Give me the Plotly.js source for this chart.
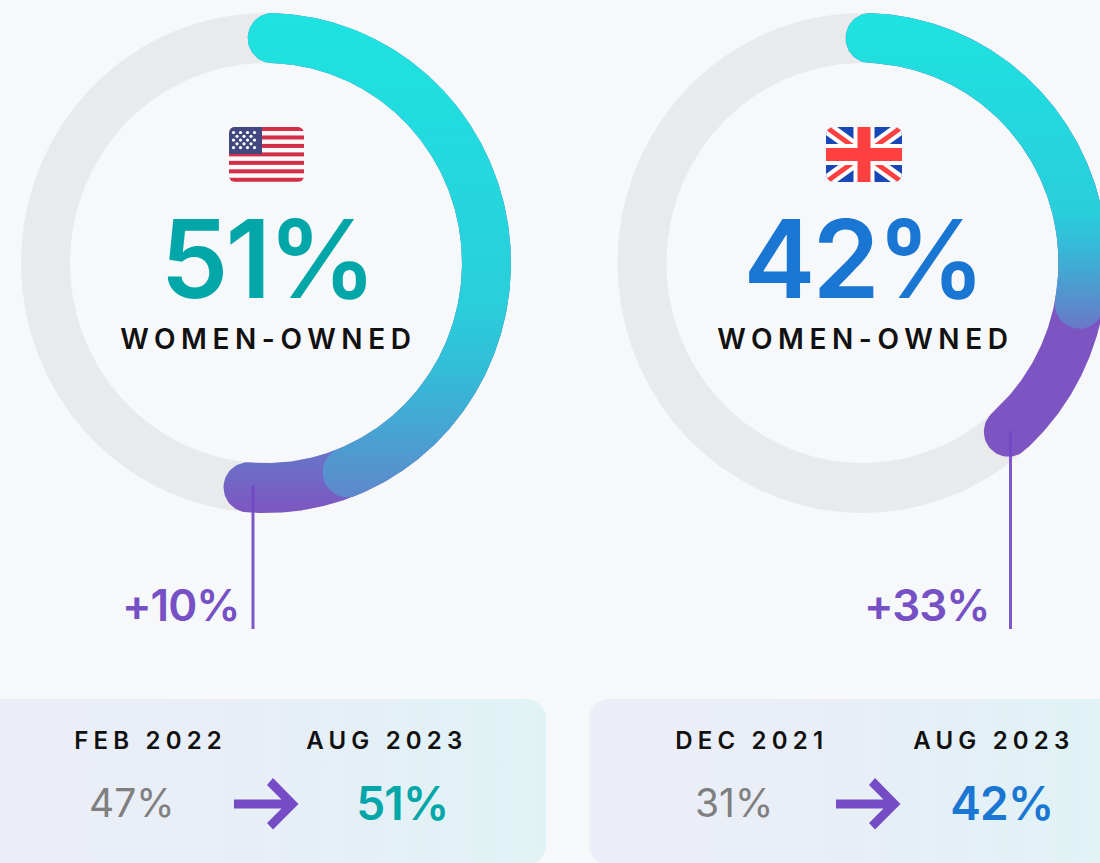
<!DOCTYPE html>
<html><head><meta charset="utf-8">
<script src="https://cdn.plot.ly/plotly-3.0.1.min.js"></script>
<style>html,body{margin:0;padding:0;background:#f6f8fa;overflow:hidden}#chart{width:1100px;height:863px}</style>
</head><body><div id="chart"></div>
<script>
// ---- data ----
const countries = ['US', 'UK'];
const shareNow = [51, 42];
const sharePrev = [47, 31];
const changeLabels = ['+10%', '+33%'];
const prevDates = ['FEB 2022', 'DEC 2021'];
const nowDates = ['AUG 2023', 'AUG 2023'];
const subtitle = 'WOMEN-OWNED';
// where the drawn arcs start and end, as a percentage of the full ring
const arcStart = [0.45, 0.55];
const arcPrevEnd = [44.0, 27.9];
const arcNowEnd = [51.3, 38.5];
const nowColors = ['#00a6a8', '#1976d2'];

// ---- layout helpers ----
const W = 1100, H = 863;
const px = x => x / W, py = y => 1 - y / H;
const centerX = [266, 862.5], centerY = 263, rx = 220.5, ry = 225, halfBand = 24.5 / rx;
const domains = [[0, 0.5], [0.5, 1]];
const sides = [[0, 550], [550, 1100]];

function band(p0, p1, withCaps) {
  const xs = [], ys = [], step = 0.5 * Math.PI / 180;
  const t0 = p0 * 3.6 * Math.PI / 180, t1 = p1 * 3.6 * Math.PI / 180;
  const n = Math.ceil((t1 - t0) / step);
  const at = (t, r) => { xs.push(Math.sin(t) * r); ys.push(Math.cos(t) * r); };
  for (let i = 0; i <= n; i++) at(t0 + (t1 - t0) * i / n, 1 + halfBand);
  const cap = (t, a0) => {
    for (let i = 1; i < 36; i++) {
      const f = a0 + Math.PI * i / 36, c = Math.cos(f) * halfBand, s = Math.sin(f) * halfBand;
      xs.push(Math.sin(t) * (1 + c) + Math.cos(t) * s);
      ys.push(Math.cos(t) * (1 + c) - Math.sin(t) * s);
    }
  };
  if (withCaps) cap(t1, 0);
  for (let i = n; i >= 0; i--) at(t0 + (t1 - t0) * i / n, 1 - halfBand);
  if (withCaps) cap(t0, Math.PI);
  return {x: xs, y: ys};
}
const yData = p => (centerY - p) / ry;
function grad(stops) {
  const a = yData(stops[0][0]), b = yData(stops[stops.length - 1][0]);
  return {type: 'vertical', start: a, stop: b,
    colorscale: stops.map(s => [(yData(s[0]) - a) / (b - a), s[1]])};
}
const tealGrad = [
  [[13, '#1ee3e0'], [300, '#29cfdb'], [370, '#33bdd7'], [440, '#4aa0d2'], [497, '#5f88cc']],
  [[13, '#1ee3e0'], [215, '#29cedb'], [260, '#3cb0d5'], [328, '#6a78c8']]
];
const purpleGrad = [
  [[463, '#6a70c8'], [513, '#7f55c0']],
  [[300, '#7d55c2'], [460, '#7d55c2']]
];

const traces = [];
const axes = {};
countries.forEach((c, i) => {
  const sx = i ? '2' : '';
  const xa = 'x' + sx, ya = 'y' + sx;
  axes['xaxis' + sx] = {domain: domains[i], visible: false, fixedrange: true,
    range: [(sides[i][0] - centerX[i]) / rx, (sides[i][1] - centerX[i]) / rx]};
  axes['yaxis' + sx] = {domain: [0, 1], visible: false, fixedrange: true,
    range: [(centerY - H) / ry, centerY / ry]};
  const common = {xaxis: xa, yaxis: ya, mode: 'lines', line: {width: 0}, fill: 'toself', hoverinfo: 'skip', showlegend: false};
  traces.push(Object.assign({}, common, band(1.2, 101.2, false), {fillcolor: '#e9eaec', name: c + ' ring'}));
  traces.push(Object.assign({}, common, band(arcStart[i], arcNowEnd[i], true), {fillgradient: grad(purpleGrad[i]), name: c + ' now'}));
  traces.push(Object.assign({}, common, band(arcStart[i], arcPrevEnd[i], true), {fillgradient: grad(tealGrad[i]), name: c + ' before'}));
});

// ---- texts ----
const FONT = 'Inter, sans-serif';
const annotations = [], spacing = [];
function label(text, x, y, size, color, weight, ls) {
  spacing.push(ls || 0);
  annotations.push({text, x: px(x), y: py(y), xref: 'paper', yref: 'paper', xanchor: 'center', yanchor: 'middle',
    showarrow: false, font: {family: FONT, size, color, weight}});
}
const offs = [0, 602];
countries.forEach((c, i) => {
  label(shareNow[i] + '%', [267, 862.5][i], 258, 108, nowColors[i], 600, -3);
  label(subtitle, [268.5, 865.5][i], 339, 28, '#111111', 600, 5.6);
  label(changeLabels[i], [180, 926.5][i], 605, 44, '#7650c5', 600, -1);
  label(prevDates[i], [150.5, 751][i], 740, 24, '#111111', 600, 5.2);
  label(nowDates[i], [387, 994][i], 740, 24, '#111111', 600, 5.2);
  label(sharePrev[i] + '%', [131.5, 733.5][i], 802, 39, '#7f7f7f', 400, 0);
  label(shareNow[i] + '%', [402, 1002][i], 803, 46, nowColors[i], 600, -0.8);
});

// ---- leader lines and arrows ----
const shapes = [];
[[253, 486], [1010.5, 431]].forEach(([x, y0]) => shapes.push({type: 'line', xref: 'paper', yref: 'paper',
  x0: px(x), x1: px(x), y0: py(y0), y1: py(629), line: {color: 'rgba(112,72,198,0.9)', width: 3}}));
const arrowPts = [[234, 799.5], [281.5, 799.5], [267, 785], [273, 778], [298.5, 804], [273, 829.5], [267, 823], [281.5, 808.5], [234, 808.5]];
offs.forEach(dx => {
  const d = 'M' + arrowPts.map(p => (px(p[0] + dx)) + ',' + py(p[1])).join('L') + 'Z';
  shapes.push({type: 'path', xref: 'paper', yref: 'paper', path: d, fillcolor: '#754cc5', line: {width: 0}});
});

// ---- flags and cards ----
const uri = s => 'data:image/svg+xml;charset=utf-8,' + encodeURIComponent(s);
let stripes = '';
for (let r = 0; r < 7; r++) stripes += `<rect x="0" y="${r * 2 * 55 / 13}" width="75" height="${55 / 13 * 0.95}" fill="#d32f48"/>`;
let stars = '';
for (let r = 0; r < 5; r++) for (let k = 0; k < (r % 2 ? 3 : 4); k++)
  stars += `<circle cx="${(r % 2 ? 8 : 4.5) + k * 7}" cy="${5.5 + r * 3.6 * 1.05}" r="1.6" fill="#fff"/>`;
const usFlag = `<svg xmlns="http://www.w3.org/2000/svg" width="75" height="55" viewBox="0 0 75 55"><clipPath id="c"><rect width="75" height="55" rx="6"/></clipPath><g clip-path="url(#c)"><rect width="75" height="55" fill="#fafafa"/>${stripes}<rect width="33" height="27" fill="#41477f"/>${stars}</g></svg>`;
const ukFlag = `<svg xmlns="http://www.w3.org/2000/svg" width="76" height="55" viewBox="0 0 76 55"><clipPath id="c"><rect width="76" height="55" rx="8"/></clipPath><g clip-path="url(#c)"><rect width="76" height="55" fill="#1a47b8"/><path d="M0 0L76 55M76 0L0 55" stroke="#fff" stroke-width="13"/><path d="M0 0L76 55M76 0L0 55" stroke="#ff4040" stroke-width="5"/><path d="M38 0V55M0 27.5H76" stroke="#fff" stroke-width="21"/><path d="M38 0V55M0 27.5H76" stroke="#ff4040" stroke-width="13"/></g></svg>`;
const card = (w, h, a, b) => `<svg xmlns="http://www.w3.org/2000/svg" width="${w}" height="${h}" viewBox="0 0 ${w} ${h}" preserveAspectRatio="none"><defs><linearGradient id="g"><stop offset="0" stop-color="${a}"/><stop offset="0.5" stop-color="#e8eef6"/><stop offset="1" stop-color="${b}"/></linearGradient></defs><rect width="${w}" height="${h}" rx="20" fill="url(#g)"/></svg>`;
const img = (svg, x, y, w, h) => ({source: uri(svg), xref: 'paper', yref: 'paper', x: px(x), y: py(y), sizex: w / W, sizey: h / H, sizing: 'stretch', xanchor: 'left', yanchor: 'top', layer: 'below'});
const images = [
  img(card(586, 166, '#eceef8', '#dff3f5'), -40, 699, 586, 166),
  img(card(531, 166, '#eceef8', '#dff3f5'), 589, 699, 531, 166),
  img(usFlag, 229, 127, 75, 55),
  img(ukFlag, 826, 127, 76, 55)
];

const css = spacing.map((s, i) => s ? `.annotation[data-index="${i}"] text{letter-spacing:${s}px}` : '').join('');
const st = document.createElement('style'); st.textContent = css; document.head.appendChild(st);

Plotly.newPlot('chart', traces, Object.assign({
  width: W, height: H, margin: {l: 0, r: 0, t: 0, b: 0, pad: 0},
  paper_bgcolor: '#f6f8fa', plot_bgcolor: 'rgba(0,0,0,0)', showlegend: false,
  annotations, shapes, images, font: {family: FONT}
}, axes), {displayModeBar: false, staticPlot: true});
</script></body></html>
